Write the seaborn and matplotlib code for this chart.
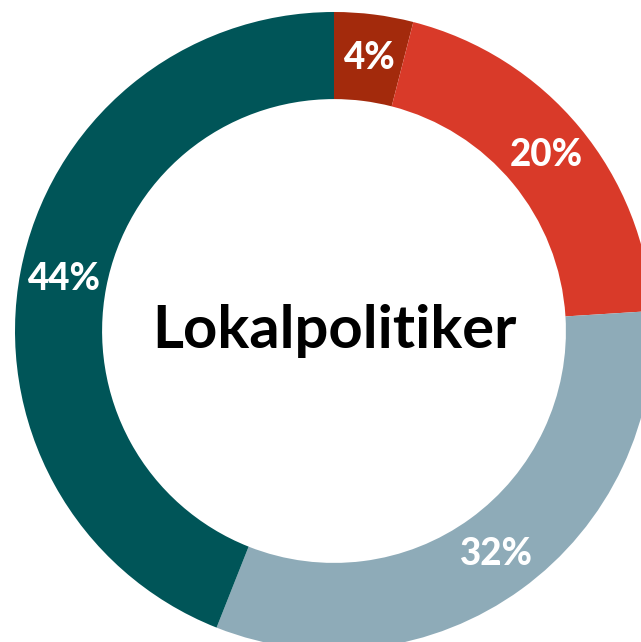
import matplotlib.pyplot as plt
import seaborn as sns

categories = ['A', 'B', 'C', 'D']
shares = [4, 20, 32, 44]
colors = ['#A32A0C', '#D93A29', '#8EABB8', '#005558']
center_title = 'Lokalpolitiker'

sns.set_theme(style='white')
plt.rcParams['font.family'] = ['Lato', 'DejaVu Sans']

fig = plt.figure(figsize=(6.41, 6.42), dpi=100)
ax = fig.add_axes([0, 0, 1, 1])

wedges, texts, autotexts = ax.pie(
    shares, colors=colors, startangle=90, counterclock=False,
    radius=1, wedgeprops=dict(width=0.273, edgecolor='none'),
    autopct=lambda p: f'{p:.0f}%', pctdistance=0.864,
    textprops=dict(color='white', fontsize=26.5, fontweight=900))

ax.text(0, 0.0, center_title, ha='center', va='center',
        fontsize=43, fontweight='bold', color='black')

r = 319.0
ax.set_xlim(-334 / r, (641 - 334) / r)
ax.set_ylim(-(642 - 331) / r, 331 / r)
ax.set_aspect('auto')
ax.axis('off')

fig.savefig('out.png', dpi=100, facecolor='white')
